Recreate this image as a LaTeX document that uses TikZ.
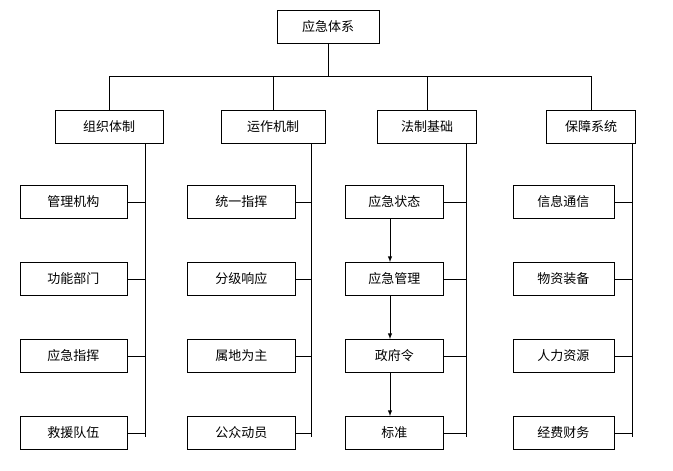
\documentclass[tikz,border=0pt]{standalone}
\usepackage{fontspec}
\newfontfamily\cjk{Noto Sans CJK SC}
\usetikzlibrary{positioning}
\usetikzlibrary{calc}
\begin{document}
\begin{tikzpicture}[x=1pt,y=-1pt,
    box/.style={draw,thick,minimum height=33,inner sep=0pt,font=\cjk\fontsize{13}{15}\selectfont},
    link/.style={thick}]
    \useasboundingbox (0,0) rectangle (673,471);
    \node[box,minimum width=102] (top) at (328,27) {应急体系};
    % second level
    \node[box,minimum width=108] (org) at (109,127) {组织体制};
    \node[box,minimum width=104] (ops) at (273,127) {运作机制};
    \node[box,minimum width=99] (law) at (427,127) {法制基础};
    \node[box,minimum width=89] (sup) at (591,127) {保障系统};
    \coordinate (bar) at (328,76);
    \draw[link] (top.south) -- (bar);
    \draw[link] (bar -| org.north) -- (bar -| sup.north);
    \foreach \n in {org,ops,law,sup}
        \draw[link] (bar -| \n.north) -- (\n.north);
    % third level
    \foreach \col/\cx/\w/\sx/\a/\b/\c/\d in {
        org/73/107/145/管理机构/功能部门/应急指挥/救援队伍,
        ops/241/108/311/统一指挥/分级响应/属地为主/公众动员,
        law/394/98/466/应急状态/应急管理/政府令/标准,
        sup/563/101/632/信息通信/物资装备/人力资源/经费财务} {
        \coordinate (\col s) at (\sx,143);
        \coordinate (\col e) at (\sx,437);
        \draw[link] (\col s) -- (\col e);
        \foreach \t [count=\i] in {\a,\b,\c,\d} {
            \node[box,minimum width=\w,anchor=west] (\col\i) at ({\cx-\w/2},{202+77*(\i-1)}) {\t};
            \draw[link] (\col\i.east) -- (\col\i.east -| \col s);
        }
    }
    \foreach \i/\j in {1/2,2/3,3/4}
        \draw[link,-latex,>=latex,line width=1pt,arrows={-latex}] (law\i.south -| 390,0) -- (law\j.north -| 390,0);
\end{tikzpicture}
\end{document}
